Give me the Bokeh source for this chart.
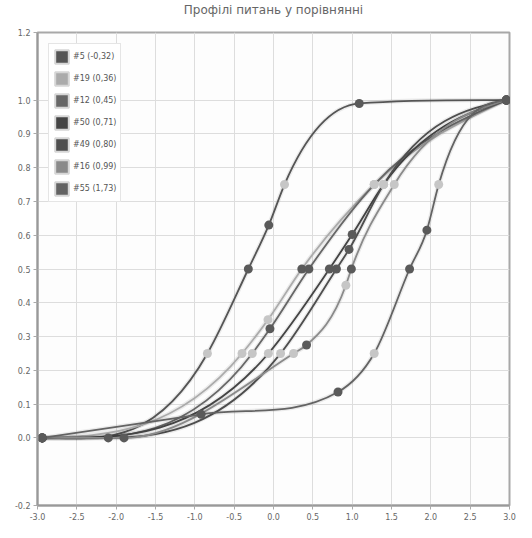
from bokeh.plotting import figure
from bokeh.models import Range1d, FixedTicker, NumeralTickFormatter, ColumnDataSource, Legend, LegendItem, Title
from bokeh.embed import file_html
from bokeh.resources import INLINE

title_text = "Профілі питань у порівнянні"

labels = ["#5 (-0,32)", "#19 (0,36)", "#12 (0,45)", "#50 (0,71)", "#49 (0,80)", "#16 (0,99)", "#55 (1,73)"]
line_colors = ["#555555", "#ababab", "#676767", "#444444", "#4e4e4e", "#8a8a8a", "#636363"]

s5_x = [-2.94, -0.84, -0.32, -0.06, 0.14, 1.09, 2.96]
s5_y = [0.0, 0.25, 0.5, 0.63, 0.75, 0.99, 1.0]
s5_k = ["p", "q", "p", "p", "q", "p", "p"]

s19_x = [-2.94, -0.40, -0.07, 0.36, 1.28, 2.96]
s19_y = [0.0, 0.25, 0.35, 0.5, 0.75, 1.0]
s19_k = ["p", "q", "q", "p", "q", "p"]

s12_x = [-2.94, -0.27, -0.045, 0.45, 1.28, 2.96]
s12_y = [0.0, 0.25, 0.323, 0.5, 0.75, 1.0]
s12_k = ["p", "q", "p", "p", "q", "p"]

s50_x = [-2.94, -0.065, 0.71, 1.0, 1.40, 2.96]
s50_y = [0.0, 0.25, 0.5, 0.602, 0.75, 1.0]
s50_k = ["p", "q", "p", "p", "q", "p"]

s49_x = [-2.94, -2.1, 0.09, 0.80, 0.96, 1.40, 2.96]
s49_y = [0.0, 0.0, 0.25, 0.5, 0.558, 0.75, 1.0]
s49_k = ["p", "p", "q", "p", "p", "q", "p"]

s16_x = [-2.94, -1.9, 0.255, 0.42, 0.92, 0.99, 1.535, 2.96]
s16_y = [0.0, 0.0, 0.25, 0.275, 0.452, 0.5, 0.75, 1.0]
s16_k = ["p", "p", "q", "p", "q", "p", "q", "p"]

s55_x = [-2.94, -0.92, 0.82, 1.28, 1.73, 1.95, 2.10, 2.96]
s55_y = [0.0, 0.07, 0.136, 0.25, 0.5, 0.615, 0.75, 1.0]
s55_k = ["p", "p", "p", "q", "p", "p", "q", "p"]

series = [
    (s5_x, s5_y, s5_k),
    (s19_x, s19_y, s19_k),
    (s12_x, s12_y, s12_k),
    (s50_x, s50_y, s50_k),
    (s49_x, s49_y, s49_k),
    (s16_x, s16_y, s16_k),
    (s55_x, s55_y, s55_k),
]

x_ticks = [-3.0, -2.5, -2.0, -1.5, -1.0, -0.5, 0.0, 0.5, 1.0, 1.5, 2.0, 2.5, 3.0]
y_ticks = [-0.2, 0.0, 0.1, 0.2, 0.3, 0.4, 0.5, 0.6, 0.7, 0.8, 0.9, 1.0, 1.2]

marker_colors = {"p": "#5a5a5a", "q": "#c6c6c6"}


def sgn(v):
    return (v > 0) - (v < 0)


def smooth_segments(xs, ys, cap=3.5):
    """Monotone-limited cubic Hermite curve through the points, as Bezier segments."""
    n = len(xs)
    h = [xs[i + 1] - xs[i] for i in range(n - 1)]
    s = [(ys[i + 1] - ys[i]) / h[i] for i in range(n - 1)]
    m = [0.0] * n
    for i in range(1, n - 1):
        s0, s1 = s[i - 1], s[i]
        if s0 * s1 <= 0:
            m[i] = 0.0
        else:
            par = (s0 * h[i] + s1 * h[i - 1]) / (h[i - 1] + h[i])
            lim = cap * min(abs(s0), abs(s1))
            m[i] = sgn(par) * min(abs(par), lim)

    def end_slope(sv, mn):
        e = (3 * sv - mn) / 2
        if sgn(e) != sgn(sv):
            return 0.0
        return sgn(sv) * min(abs(e), 3 * abs(sv))

    m[0] = end_slope(s[0], m[1]) if n > 2 else s[0]
    m[-1] = end_slope(s[-1], m[-2]) if n > 2 else s[-1]
    seg = dict(x0=[], y0=[], x1=[], y1=[], cx0=[], cy0=[], cx1=[], cy1=[])
    for i in range(n - 1):
        seg["x0"].append(xs[i]); seg["y0"].append(ys[i])
        seg["x1"].append(xs[i + 1]); seg["y1"].append(ys[i + 1])
        seg["cx0"].append(xs[i] + h[i] / 3); seg["cy0"].append(ys[i] + m[i] * h[i] / 3)
        seg["cx1"].append(xs[i + 1] - h[i] / 3); seg["cy1"].append(ys[i + 1] - m[i + 1] * h[i] / 3)
    return seg


p = figure(width=516, height=522, output_backend="svg", toolbar_location=None,
           x_range=Range1d(-3, 3), y_range=Range1d(-0.2, 1.2),
           min_border_left=37, min_border_right=7, min_border_bottom=14, min_border_top=4)
p.extra_y_ranges = {"legend_proxy": Range1d(100, 101)}

p.title.text = title_text
p.title.align = "center"
p.title.text_font = "DejaVu Sans"
p.title.text_font_size = "12px"
p.title.text_font_style = "normal"
p.title.text_color = "#666666"
p.title.standoff = 0

# spacer between the title and the plot frame
p.add_layout(Title(text=" ", text_font_size="1px", standoff=13), "above")

p.background_fill_color = "#fdfdfd"
p.border_fill_color = "#ffffff"
p.outline_line_color = "#a8a8a8"
p.outline_line_width = 2

p.xaxis.ticker = FixedTicker(ticks=x_ticks)
p.yaxis.ticker = FixedTicker(ticks=y_ticks)
p.xaxis.formatter = NumeralTickFormatter(format="0.0")
p.yaxis.formatter = NumeralTickFormatter(format="0.0")
for ax in (p.xaxis, p.yaxis):
    ax.axis_line_color = "#999999"
    ax.axis_line_width = 2
    ax.major_tick_line_color = "#aaaaaa"
    ax.major_tick_out = 4
    ax.major_tick_in = 0
    ax.minor_tick_line_color = None
    ax.major_label_text_font = "DejaVu Sans"
    ax.major_label_text_font_size = "8px"
    ax.major_label_text_color = "#666666"
    ax.major_label_standoff = 3

p.xgrid.grid_line_color = "#dddddd"
p.ygrid.grid_line_color = "#dddddd"

legend_items = []
for (xs, ys, ks), col, lab in zip(series, line_colors, labels):
    seg = smooth_segments(xs, ys)
    src = ColumnDataSource(seg)
    p.bezier(source=src, x0="x0", y0="y0", x1="x1", y1="y1",
             cx0="cx0", cy0="cy0", cx1="cx1", cy1="cy1",
             line_color="#000000", line_alpha=0.07, line_width=4.5)
    p.bezier(source=src, x0="x0", y0="y0", x1="x1", y1="y1",
             cx0="cx0", cy0="cy0", cx1="cx1", cy1="cy1",
             line_color=col, line_width=1.8)
    # legend swatch proxy: drawn on an off-screen range, only its legend glyph shows
    sw = p.quad(left=xs[:1], right=xs[1:2], bottom=ys[:1], top=ys[1:2], y_range_name="legend_proxy",
                fill_color=col, line_color="#d6d6d6", line_width=2)
    legend_items.append(LegendItem(label=lab, renderers=[sw]))

for (xs, ys, ks) in series:
    src = ColumnDataSource(dict(x=xs, y=ys, c=[marker_colors[k] for k in ks]))
    p.scatter("x", "y", source=src, size=9, fill_color="c", line_color=None)

legend = Legend(items=legend_items, location="top_left")
legend.margin = 11
legend.padding = 4
legend.spacing = 5
legend.glyph_width = 17
legend.glyph_height = 17
legend.label_standoff = 3
legend.label_text_font = "DejaVu Sans"
legend.label_text_font_size = "8px"
legend.label_text_color = "#555555"
legend.label_height = 17
legend.border_line_color = "#cccccc"
legend.border_line_width = 1
legend.background_fill_color = "#ffffff"
legend.background_fill_alpha = 1.0
p.add_layout(legend)

open("out.html", "w").write(file_html(p, INLINE))
